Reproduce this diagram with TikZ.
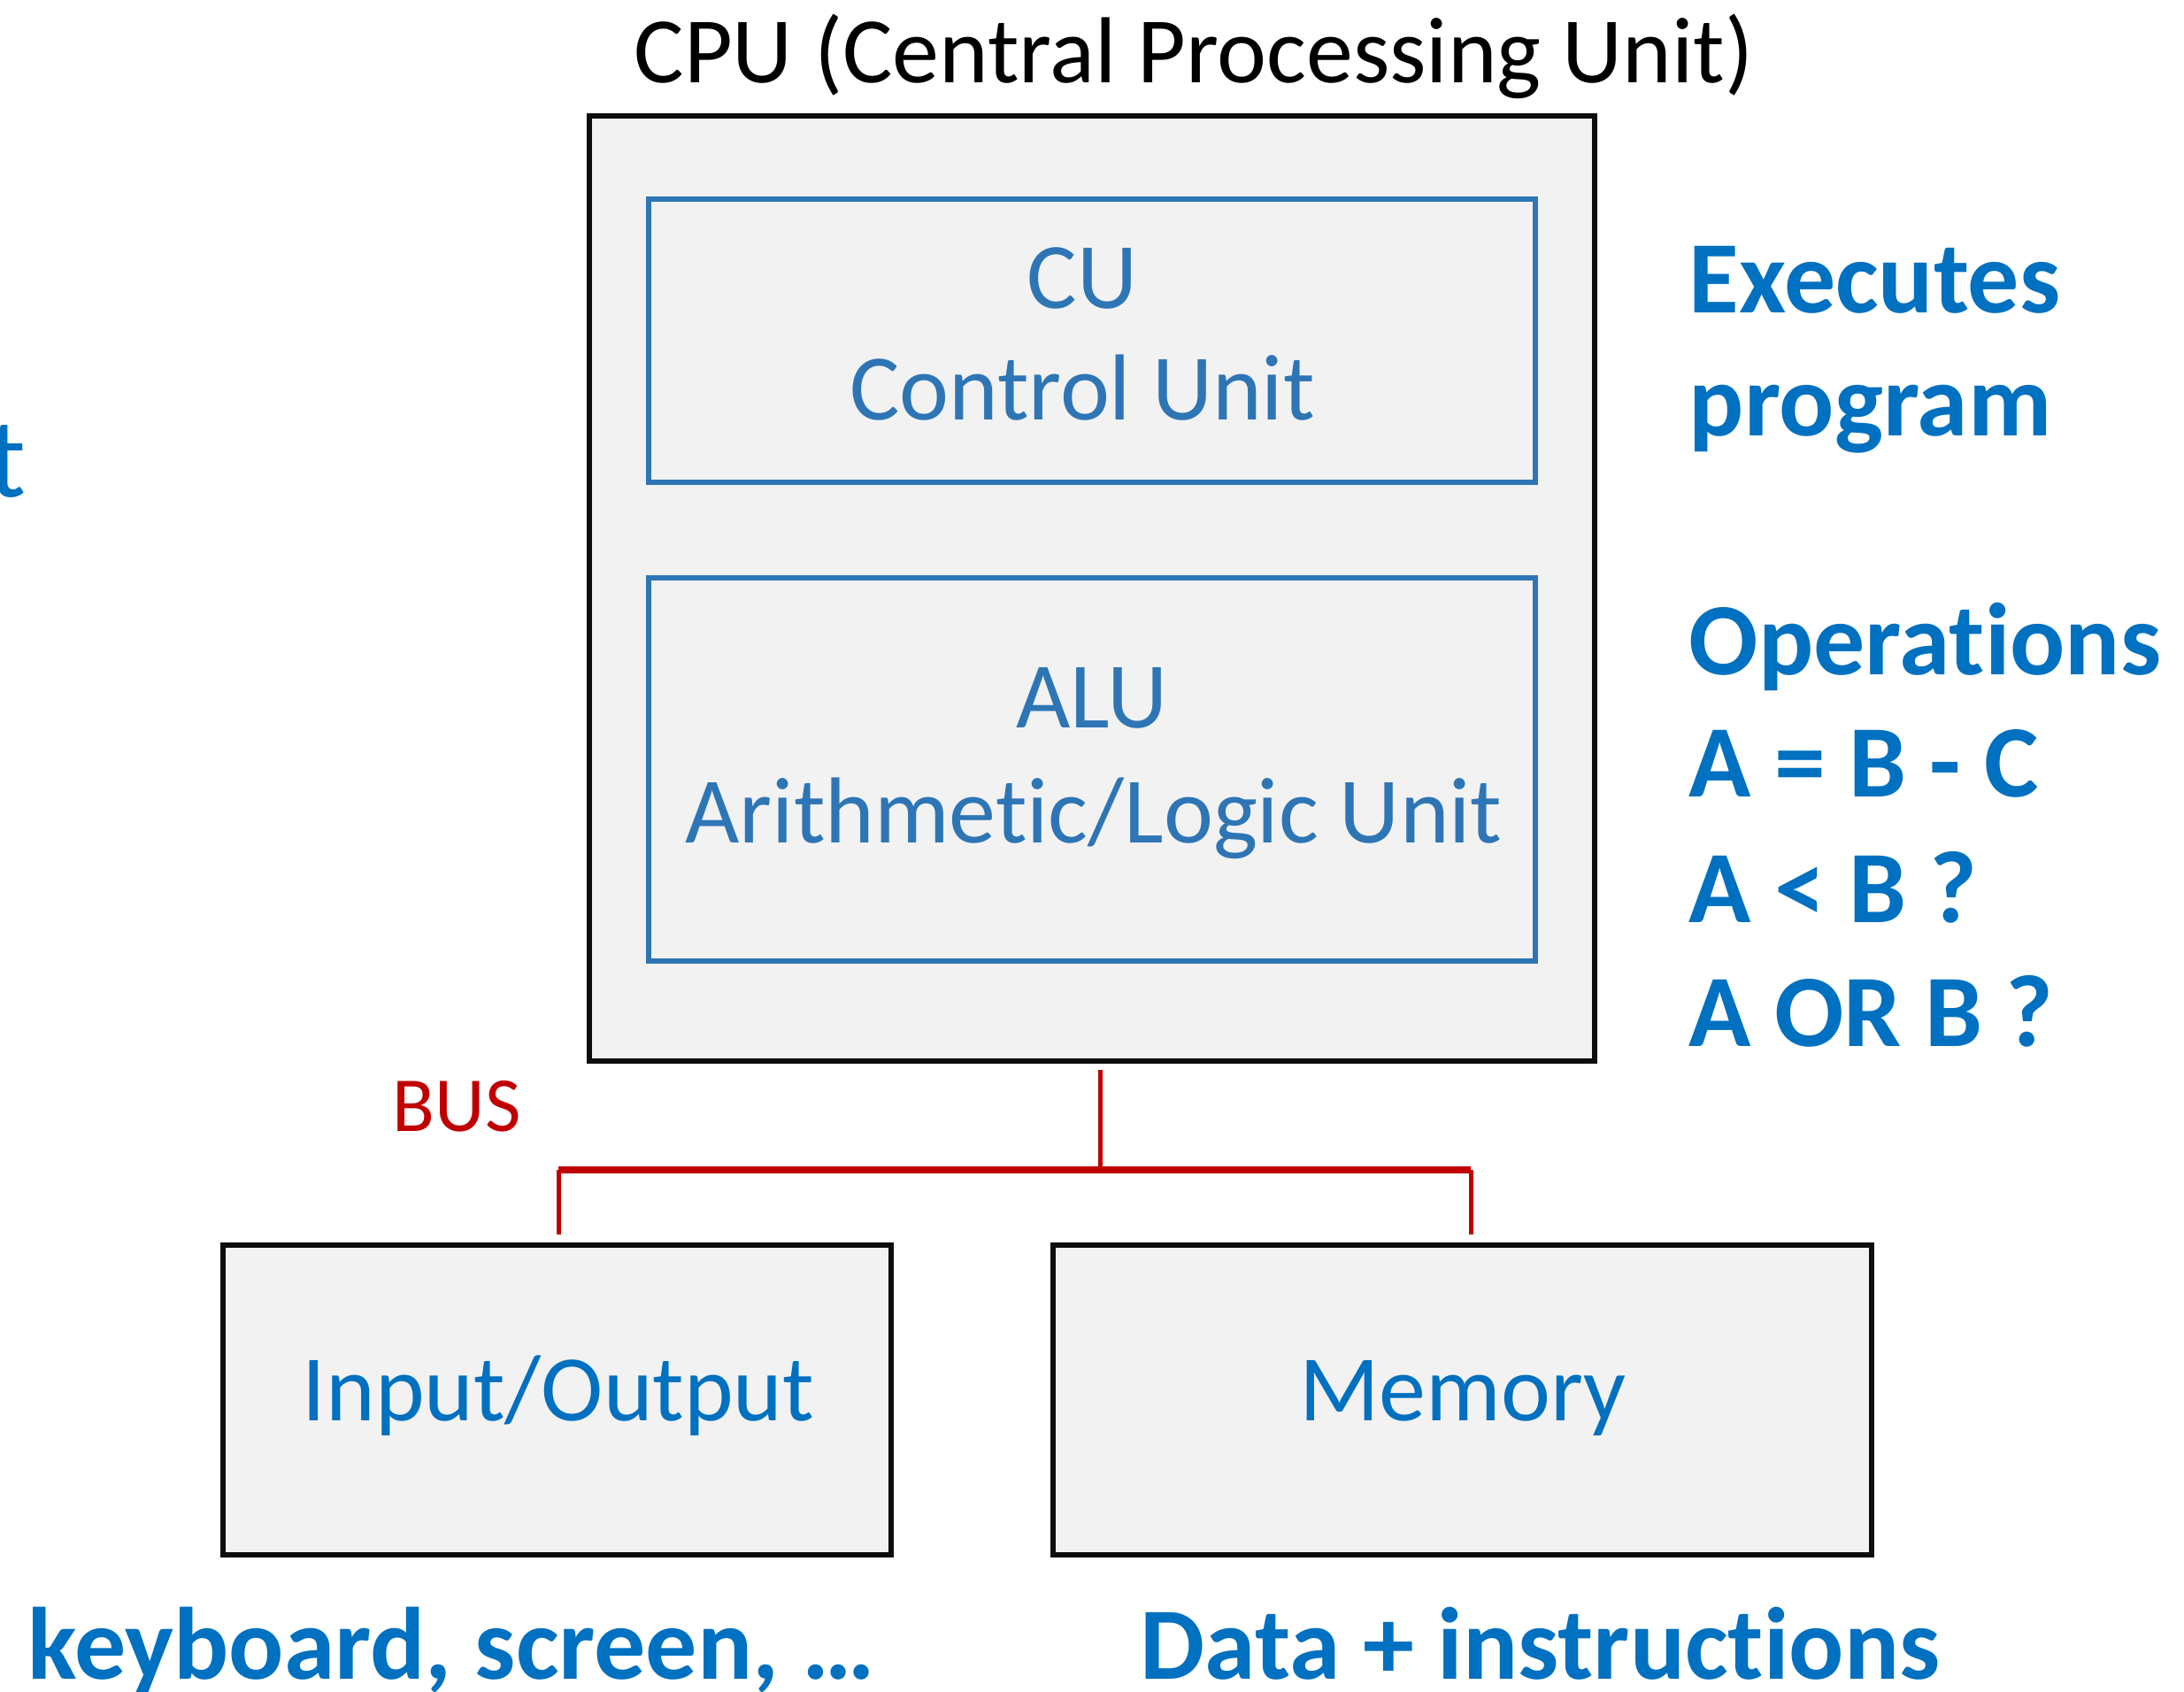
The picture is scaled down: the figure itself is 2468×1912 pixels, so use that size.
\documentclass[tikz,border=0pt]{standalone}
\usepackage{fontspec}
\setmainfont{Carlito}[Ligatures=NoCommon, RawFeature={-liga;-clig;-calt}]
\usetikzlibrary{fit}
\definecolor{panel}{HTML}{F2F2F2}
\definecolor{edge}{HTML}{0D0D0D}
\definecolor{unitblue}{HTML}{2E75B6}
\definecolor{noteblue}{HTML}{0070C0}
\definecolor{busred}{HTML}{C00000}
\tikzset{
  outerbox/.style={draw=edge, fill=panel, line width=1.5pt, inner sep=0pt},
  unitbox/.style={draw=unitblue, line width=1.5pt, inner sep=0pt},
  label/.style={inner sep=0pt, anchor=base},
  unittext/.style={label, text=unitblue, font=\fontsize{26.5}{30}\selectfont},
  devtext/.style={label, text=noteblue, font=\fontsize{26.5}{30}\selectfont},
  note/.style={inner sep=0pt, anchor=base west, text=noteblue, font=\fontsize{29}{34}\selectfont\bfseries},
  busv/.style={draw=busred, line width=1.25pt},
  bush/.style={draw=busred, line width=2pt}
}
\begin{document}
\begin{tikzpicture}[x=0.25pt, y=-0.25pt]
\useasboundingbox (0,0) rectangle (2468,1912);

% title
\node[label, font=\fontsize{26.5}{30}\selectfont] (title) at (1349,94) {CPU (Central Processing Unit)};

% CPU with its two units
\node[outerbox, fit={(666,131) (1802,1199)}] (cpu) {};
\node[unitbox, fit={(733,225) (1735,545)}] (cu) {};
\node[unitbox, fit={(733,653) (1735,1086)}] (alu) {};
\node[unittext] (cuname) at (1223,349) {CU};
\node[unittext] (culong) at (1223,475) {Control Unit};
\node[unittext] (aluname) at (1234,822) {ALU};
\node[unittext] (alulong) at (1236,952) {Arithmetic/Logic Unit};

% devices
\node[outerbox, fit={(252,1407) (1007,1757)}] (io) {};
\node[outerbox, fit={(1190,1407) (2115,1757)}] (mem) {};
\node[devtext] (iotext) at (631,1605) {Input/Output};
\node[devtext] (memtext) at (1653,1605) {Memory};

% bus
\coordinate (busjoint) at (1243,1322);
\coordinate (busleft) at (631,1322);
\coordinate (busright) at (1662,1322);
\draw[busv] (busjoint |- 0,1209) -- (busjoint);
\draw[bush] (busleft) -- (busright);
\draw[busv] (busleft) -- (busleft |- 0,1395);
\draw[busv] (busright) -- (busright |- 0,1395);
\node[inner sep=0pt, anchor=base west, text=busred, font=\fontsize{22}{26}\selectfont] (bus) at (443,1278) {BUS};

% notes on the right
\node[note] (n1) at (1908,354) {Executes};
\node[note] (n2) at (1908,493) {program};
\node[note] (n3) at (1908,762) {Operations};
\node[note] (n4) at (1908,900) {A = B - C};
\node[note] (n5) at (1908,1042) {A < B ?};
\node[note] (n6) at (1908,1182) {A OR B ?};

% notes below the devices
\node[note] (n7) at (31,1897) {keyboard, screen, …};
\node[note] (n8) at (1288,1897) {Data + instructions};

% end of a word cut off at the left edge
\node[inner sep=0pt, anchor=base east, text=noteblue, font=\fontsize{32}{36}\selectfont] (cut) at (30,562) {t};
\end{tikzpicture}
\end{document}
